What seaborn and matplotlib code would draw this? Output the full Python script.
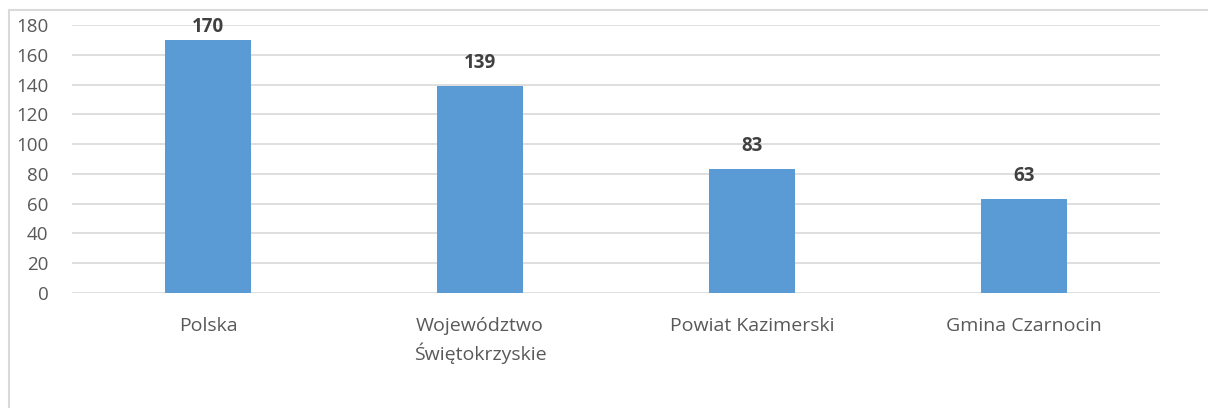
import pandas as pd
import seaborn as sns
import matplotlib.pyplot as plt
from matplotlib.patches import Rectangle

REGIONS = ["Polska", "Województwo\nŚwiętokrzyskie", "Powiat Kazimerski", "Gmina Czarnocin"]
VALUES = [170, 139, 83, 63]
Y_TICKS = list(range(0, 181, 20))

BAR_COLOR = "#5B9BD5"
GRID_COLOR = "#D9D9D9"
TEXT_COLOR = "#595959"


def main():
    sns.set_style("white")
    plt.rcParams["font.family"] = ["Open Sans", "DejaVu Sans"]

    df = pd.DataFrame({"Region": REGIONS, "Value": VALUES})

    fig = plt.figure(figsize=(12.08, 4.08), dpi=100)
    ax = fig.add_axes([0.0596, 0.2819, 0.9007, 0.6568])

    sns.barplot(data=df, x="Region", y="Value", color=BAR_COLOR, width=0.316,
                saturation=1, linewidth=0, ax=ax, zorder=3)

    ax.set_ylim(0, 180)
    ax.set_yticks(Y_TICKS)
    ax.set_xlim(-0.5, len(REGIONS) - 0.5)
    ax.grid(axis="y", color=GRID_COLOR, linewidth=1.2, zorder=0)
    ax.set_axisbelow(True)
    for s in ax.spines.values():
        s.set_visible(False)
    ax.set_xlabel("")
    ax.set_ylabel("")
    ax.tick_params(axis="y", length=0, pad=17, labelsize=13.5, labelcolor=TEXT_COLOR)
    ax.tick_params(axis="x", length=0, pad=17, labelsize=14, labelcolor=TEXT_COLOR)
    for lbl in ax.get_xticklabels():
        lbl.set_linespacing(1.45)

    # value labels above bars, pulled down if they would leave the plot
    for i, v in enumerate(VALUES):
        y = min(v + 9, 172)
        ax.text(i, y, str(v), ha="center", va="bottom", fontsize=13.5,
                fontweight="bold", color="#404040", zorder=4)

    # chart area border (only left and top visible in the reference)
    fig.patches.append(Rectangle((9 / 1208, -0.1), 1.2, 1.1 - 10 / 408,
                                 transform=fig.transFigure, fill=False,
                                 edgecolor=GRID_COLOR, linewidth=1.5))

    fig.savefig("out.png", dpi=100)


if __name__ == "__main__":
    main()
